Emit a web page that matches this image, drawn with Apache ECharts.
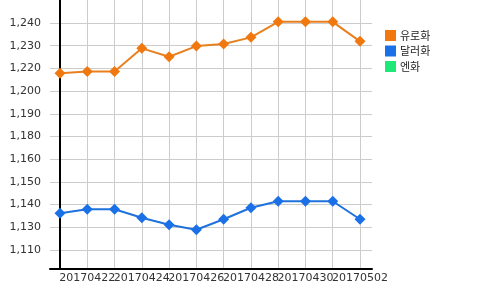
<!DOCTYPE html>
<html>
<head>
<meta charset="utf-8">
<script src="https://cdn.jsdelivr.net/npm/echarts@6/dist/echarts.min.js"></script>
<style>html,body{margin:0;padding:0;background:#fff;}#c{width:500px;height:290px;}</style>
</head>
<body>
<div id="c"></div>
<script>
var categories = ['20170421','20170422','20170423','20170424','20170425','20170426','20170427','20170428','20170429','20170430','20170501','20170502'];
var euroValues = [1218.7, 1219.8, 1219.8, 1233.0, 1228.2, 1234.3, 1235.5, 1239.3, 1248.2, 1248.2, 1248.2, 1237.0];
var dollarValues = [1138.5, 1140.8, 1140.8, 1136.0, 1132.0, 1129.1, 1135.1, 1141.7, 1145.4, 1145.4, 1145.4, 1135.1];
var yenValues = [];
var seriesNames = ['유로화', '달러화', '엔화'];
var yTickValues = [1117.5, 1130.5, 1143.5, 1156.5, 1169.5, 1182.5, 1195.5, 1208.5, 1221.5, 1234.5, 1247.5];
var yTickLabels = ['1,110', '1,130', '1,140', '1,150', '1,160', '1,180', '1,190', '1,200', '1,220', '1,230', '1,240'];
var xLabelIndexesA = [1, 5, 9];
var xLabelIndexesB = [3, 7, 11];

function pairs(arr) { return arr.map(function (v, i) { return [i, v]; }); }
var FONT = "'DejaVu Sans', 'Noto Sans CJK KR', sans-serif";
var colors = ['#f0780f', '#1a70e6', '#1ee878'];
var X_MIN = -0.367, X_MAX = 11.44;

function xLabel(idx) {
  return {
    customValues: idx, color: '#333', fontSize: 11, margin: 4, fontFamily: FONT,
    showMinLabel: true, showMaxLabel: true, hideOverlap: false,
    formatter: function (v) { return categories[Math.round(v)] || ''; }
  };
}

var chart = echarts.init(document.getElementById('c'), null, {renderer: 'canvas'});
chart.setOption({
  animation: false,
  color: colors,
  textStyle: {fontFamily: FONT},
  grid: {left: 50, right: 128, top: 0, bottom: 21, containLabel: false, outerBoundsMode: 'none'},
  legend: {
    orient: 'vertical', left: 380, top: 25,
    icon: 'rect', itemWidth: 11, itemHeight: 11, itemGap: 4.5,
    textStyle: {fontSize: 11, color: '#222', fontFamily: "'Noto Sans CJK KR', sans-serif", padding: [0, 0, 0, -1]},
    data: seriesNames
  },
  xAxis: [
    {
      type: 'value', min: X_MIN, max: X_MAX, position: 'bottom',
      axisLine: {show: true, lineStyle: {color: '#000', width: 2}},
      axisTick: {show: false, customValues: categories.map(function (c, i) { return i; })},
      axisLabel: xLabel(xLabelIndexesA),
      splitLine: {show: true, lineStyle: {color: '#cccccc', width: 1}}
    },
    {
      type: 'value', min: X_MIN, max: X_MAX, position: 'bottom', offset: 0,
      axisLine: {show: false},
      axisTick: {show: false},
      axisLabel: xLabel(xLabelIndexesB),
      splitLine: {show: false}
    }
  ],
  yAxis: {
    type: 'value', min: 1106.6, max: 1260.7,
    axisLine: {show: true, lineStyle: {color: '#000', width: 2}},
    axisTick: {show: false, customValues: yTickValues},
    axisLabel: {
      customValues: yTickValues, color: '#333', fontSize: 11, margin: 9, fontFamily: FONT,
      showMinLabel: true, showMaxLabel: true,
      formatter: function (v) {
        var best = 0;
        for (var i = 0; i < yTickValues.length; i++) {
          if (Math.abs(yTickValues[i] - v) < Math.abs(yTickValues[best] - v)) best = i;
        }
        return yTickLabels[best];
      }
    },
    splitLine: {show: true, lineStyle: {color: '#cccccc', width: 1}}
  },
  series: [
    {name: seriesNames[0], type: 'line', xAxisIndex: 0, data: pairs(euroValues), symbol: 'diamond', symbolSize: 11,
     lineStyle: {width: 2, color: '#e8801f'}, itemStyle: {color: colors[0]}},
    {name: seriesNames[1], type: 'line', xAxisIndex: 0, data: pairs(dollarValues), symbol: 'diamond', symbolSize: 11,
     lineStyle: {width: 2, color: '#1f72dc'}, itemStyle: {color: colors[1]}},
    {name: seriesNames[2], type: 'line', xAxisIndex: 0, data: pairs(yenValues), symbol: 'diamond', symbolSize: 11,
     lineStyle: {width: 2}, itemStyle: {color: colors[2]}}
  ]
});
</script>
</body>
</html>
